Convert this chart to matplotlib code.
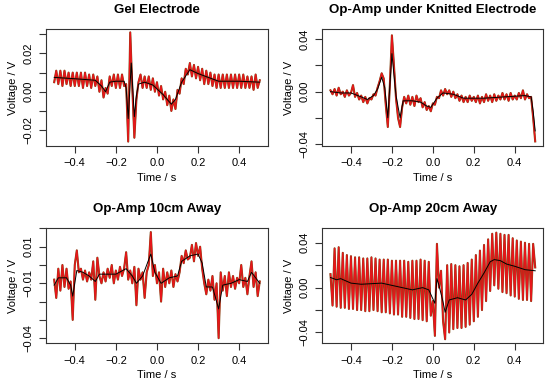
import matplotlib
matplotlib.use('Agg')
import matplotlib.pyplot as plt
import numpy as np

plt.rcParams['font.family'] = ['Liberation Sans', 'DejaVu Sans']

# sample times (s), one sample every 10 ms
t = np.round(np.arange(-0.5, 0.5001, 0.01), 2)

# ---- Gel Electrode ----
gel_v = [0.005, 0.011, 0.004, 0.011, 0.003, 0.011, 0.004, 0.010, 0.003, 0.010,
         0.003, 0.010, 0.003, 0.010, 0.002, 0.010, 0.003, 0.009, 0.002, 0.009,
         0.003, 0.008, 0.000, 0.006, -0.003, 0.002, -0.001, 0.008, 0.003, 0.009,
         0.002, 0.009, 0.002, 0.009, 0.003, 0.004, -0.026, 0.031, 0.002, -0.024,
         -0.004, 0.005, 0.009, 0.002, 0.008, 0.002, 0.008, 0.001, 0.007, 0.000,
         0.005, -0.002, 0.003, -0.004, 0.000, -0.007, -0.002, -0.010, -0.004, -0.009,
         0.001, -0.001, 0.007, 0.004, 0.012, 0.009, 0.015, 0.008, 0.014, 0.007,
         0.013, 0.006, 0.012, 0.004, 0.011, 0.004, 0.010, 0.003, 0.009, 0.002,
         0.009, 0.002, 0.009, 0.002, 0.009, 0.002, 0.009, 0.002, 0.009, 0.002,
         0.009, 0.002, 0.009, 0.002, 0.008, 0.002, 0.008, 0.001, 0.009, 0.002,
         0.006]
gel_st = [-0.50, -0.40, -0.30, -0.27, -0.25, -0.23, -0.20, -0.16, -0.15, -0.14,
          -0.125, -0.11, -0.10, -0.09, -0.06, -0.02, 0.00, 0.03, 0.07, 0.09,
          0.12, 0.16, 0.20, 0.25, 0.30, 0.40, 0.50]
gel_sv = [0.0075, 0.0068, 0.006, 0.003, 0.000, 0.005, 0.0055, 0.0055, 0.002, -0.014,
          0.015, -0.013, -0.002, 0.004, 0.005, 0.0035, 0.0015, -0.0015, -0.0065, -0.004,
          0.005, 0.0115, 0.0095, 0.0075, 0.0055, 0.0055, 0.005]

# ---- Op-Amp under Knitted Electrode ----
knit_v = [0.001, -0.002, 0.002, -0.003, 0.003, -0.002, 0.000, -0.004, 0.001, -0.003,
          -0.001, 0.005, -0.004, -0.001, -0.006, -0.003, -0.008, -0.004, -0.009, -0.005,
          -0.006, -0.002, -0.003, 0.003, 0.008, 0.014, 0.010, -0.010, -0.027, 0.005,
          0.043, 0.020, -0.005, -0.020, -0.027, -0.012, -0.004, -0.009, -0.003, -0.010,
          -0.004, -0.011, -0.003, -0.008, -0.005, -0.012, -0.008, -0.014, -0.011, -0.015,
          -0.009, -0.010, -0.004, -0.005, 0.001, -0.003, 0.002, -0.002, 0.001, -0.004,
          0.000, -0.005, -0.002, -0.007, -0.003, -0.008, -0.004, -0.008, -0.003, -0.007,
          -0.004, -0.008, -0.003, -0.009, -0.004, -0.008, -0.002, -0.007, -0.003, -0.008,
          -0.002, -0.007, -0.003, -0.006, -0.001, -0.006, -0.002, -0.007, -0.001, -0.006,
          -0.003, -0.006, -0.001, -0.005, 0.001, -0.006, -0.002, -0.005, -0.004, -0.020,
          -0.038]
knit_st = [-0.50, -0.45, -0.40, -0.35, -0.32, -0.29, -0.27, -0.25, -0.235, -0.22,
           -0.20, -0.18, -0.16, -0.145, -0.10, -0.06, -0.03, -0.01, 0.02, 0.05,
           0.10, 0.15, 0.25, 0.35, 0.45, 0.48, 0.49, 0.50]
knit_sv = [0.000, -0.001, -0.001, -0.004, -0.006, -0.003, 0.002, 0.011, 0.003, -0.020,
           0.029, -0.003, -0.020, -0.007, -0.007, -0.008, -0.011, -0.012, -0.005, -0.001,
           -0.002, -0.005, -0.005, -0.004, -0.003, -0.004, -0.015, -0.030]

# ---- Op-Amp 10cm Away ----
cm10_v = [-0.008, -0.018, -0.002, -0.014, 0.000, -0.012, -0.002, -0.013, -0.009, -0.030,
          0.000, 0.008, -0.004, -0.002, -0.008, -0.003, -0.009, -0.004, -0.008, 0.002,
          -0.019, 0.004, -0.006, -0.010, -0.004, -0.009, -0.002, -0.007, 0.000, -0.010,
          -0.003, -0.008, -0.001, -0.006, -0.002, 0.007, -0.008, -0.003, -0.010, -0.001,
          -0.022, -0.002, -0.008, -0.004, -0.018, -0.004, 0.000, 0.018, -0.006, 0.000,
          -0.010, -0.004, -0.020, -0.002, -0.012, -0.004, -0.010, -0.003, -0.012, -0.005,
          -0.009, -0.004, 0.005, 0.001, 0.008, 0.003, 0.004, 0.011, 0.002, 0.012,
          0.005, 0.010, -0.002, -0.010, -0.016, -0.008, -0.014, -0.006, -0.019, -0.010,
          -0.040, -0.004, -0.014, -0.006, -0.017, -0.004, -0.012, -0.006, -0.013, -0.007,
          -0.010, 0.000, -0.012, -0.007, -0.016, -0.006, 0.002, -0.012, -0.004, -0.017,
          -0.009]
cm10_st = [-0.50, -0.48, -0.44, -0.42, -0.41, -0.39, -0.36, -0.33, -0.30, -0.28,
           -0.24, -0.20, -0.15, -0.12, -0.10, -0.07, -0.03, -0.01, 0.02, 0.06,
           0.10, 0.12, 0.16, 0.20, 0.22, 0.24, 0.27, 0.30, 0.32, 0.36,
           0.40, 0.44, 0.46, 0.50]
cm10_sv = [-0.011, -0.007, -0.007, -0.011, -0.017, -0.003, -0.004, -0.006, -0.009, -0.005,
           -0.005, -0.005, -0.002, -0.006, -0.010, -0.006, 0.006, -0.004, -0.010, -0.007,
           -0.006, 0.002, 0.005, 0.006, 0.001, -0.012, -0.012, -0.024, -0.011, -0.010,
           -0.008, -0.009, -0.004, -0.010]

# ---- Op-Amp 20cm Away ----
cm20_v = [0.012, -0.016, 0.035, -0.017, 0.036, -0.018, 0.031, -0.018, 0.029, -0.019,
          0.028, -0.019, 0.027, -0.020, 0.027, -0.020, 0.026, -0.021, 0.026, -0.021,
          0.027, -0.020, 0.026, -0.021, 0.025, -0.022, 0.025, -0.022, 0.025, -0.023,
          0.024, -0.024, 0.024, -0.024, 0.024, -0.026, 0.024, -0.026, 0.023, -0.027,
          0.024, -0.028, 0.024, -0.028, 0.025, -0.029, 0.024, -0.030, 0.023, -0.025,
          -0.012, -0.043, 0.039, 0.000, 0.015, -0.030, -0.046, 0.020, -0.040, 0.021,
          -0.037, 0.020, -0.036, 0.019, -0.036, 0.020, -0.035, 0.022, -0.033, 0.025,
          -0.030, 0.029, -0.026, 0.033, -0.020, 0.038, -0.012, 0.043, -0.003, 0.048,
          0.002, 0.049, -0.001, 0.048, -0.004, 0.047, -0.005, 0.047, -0.007, 0.044,
          -0.008, 0.042, -0.010, 0.041, -0.011, 0.040, -0.011, 0.039, -0.012, 0.039,
          0.018]
cm20_st = [-0.50, -0.47, -0.45, -0.40, -0.35, -0.30, -0.25, -0.20, -0.15, -0.10,
           -0.05, -0.02, 0.00, 0.01, 0.02, 0.03, 0.05, 0.06, 0.08, 0.12,
           0.16, 0.19, 0.22, 0.25, 0.28, 0.30, 0.33, 0.36, 0.40, 0.45, 0.50]
cm20_sv = [0.009, 0.007, 0.008, 0.004, 0.003, 0.0035, 0.004, 0.002, 0.000, -0.002,
           0.000, -0.002, -0.010, -0.014, 0.008, 0.002, -0.013, -0.022, -0.011, -0.009,
           -0.011, -0.006, 0.004, 0.013, 0.023, 0.025, 0.024, 0.021, 0.019, 0.016, 0.015]

BROWN = '#7a4a16'
RED = '#e8151a'

panels = [
    ('Gel Electrode', gel_v, gel_st, gel_sv, [0.0836, 0.6208, 0.4036, 0.3031],
     (-0.0283, 0.0326), [-0.02, -0.01, 0.0, 0.01, 0.02, 0.03], [-0.02, 0.0, 0.02]),
    ('Op-Amp under Knitted Electrode', knit_v, knit_st, knit_sv, [0.586, 0.6208, 0.402, 0.3031],
     (-0.0415, 0.0476), [-0.04, -0.02, 0.0, 0.02, 0.04], [-0.04, 0.0, 0.04]),
    ('Op-Amp 10cm Away', cm10_v, cm10_st, cm10_sv, [0.0836, 0.1078, 0.4036, 0.3008],
     (-0.0429, 0.0204), [-0.04, -0.03, -0.02, -0.01, 0.0, 0.01, 0.02], [-0.04, -0.01, 0.01]),
    ('Op-Amp 20cm Away', cm20_v, cm20_st, cm20_sv, [0.586, 0.1078, 0.402, 0.3008],
     (-0.0498, 0.0534), [-0.04, -0.02, 0.0, 0.02, 0.04], [-0.04, 0.0, 0.04]),
]

fig = plt.figure(figsize=(5.5, 3.85), dpi=100)
for title, v, st, sv, rect, ylim, yt, ylab in panels:
    ax = fig.add_axes(rect)
    ax.plot(t, v, color=BROWN, lw=1.5, zorder=2)
    ax.plot(t, v, color=RED, lw=1.0, zorder=3)
    ax.plot(st, sv, color='black', lw=0.7, zorder=4)
    ax.set_xlim(-0.54, 0.54)
    ax.set_ylim(*ylim)
    ax.set_xticks([-0.4, -0.2, 0.0, 0.2, 0.4])
    ax.set_xticklabels(['\u22120.4', '\u22120.2', '0.0', '0.2', '0.4'])
    ax.set_yticks(yt)
    labs = []
    for y in yt:
        if any(abs(y - l) < 1e-9 for l in ylab):
            labs.append(('%.2f' % y).replace('-', '\u2212'))
        else:
            labs.append('')
    ax.set_yticklabels(labs, rotation=90, va='center')
    ax.tick_params(direction='out', length=5, width=0.8, labelsize=8, color='#333333')
    ax.tick_params(axis='x', pad=4)
    ax.tick_params(axis='y', pad=4)
    for s in ax.spines.values():
        s.set_linewidth(0.8)
        s.set_color('#333333')
    ax.set_xlabel('Time / s', fontsize=8, va='center')
    ax.xaxis.set_label_coords(0.5, -0.274)
    ax.set_ylabel('Voltage / V', fontsize=8, va='center')
    ax.yaxis.set_label_coords(-0.149, 0.5)
    ax.text(0.5, 1.165, title, transform=ax.transAxes, ha='center', va='center',
            fontsize=9.6, fontweight='bold')

fig.savefig('out.png', dpi=100)
